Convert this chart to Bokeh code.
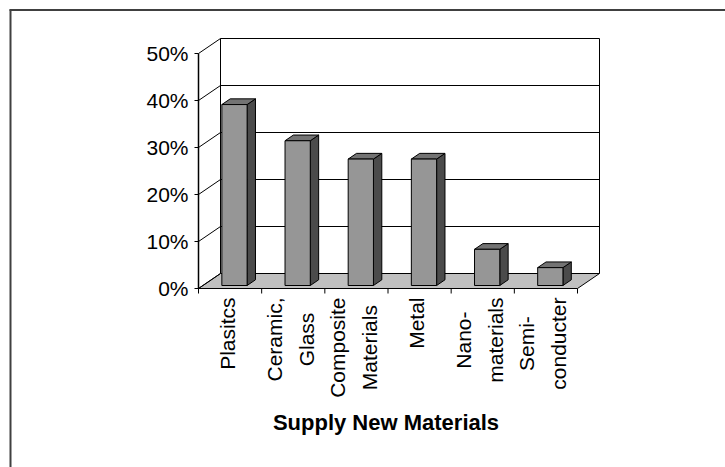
import math

from bokeh.core.properties import value
from bokeh.embed import file_html
from bokeh.models import Range1d
from bokeh.plotting import figure
from bokeh.resources import INLINE

# ---- data -------------------------------------------------------------
category_lines = [
    ["Plasitcs"],
    ["Ceramic,", "Glass"],
    ["Composite", "Materials"],
    ["Metal"],
    ["Nano-", "materials"],
    ["Semi-", "conducter"],
]
shares = [38.5, 30.8, 26.9, 26.9, 7.7, 3.8]  # percent
y_ticks = [0, 10, 20, 30, 40, 50]
y_tick_labels = ["0%", "10%", "20%", "30%", "40%", "50%"]
axis_title = "Supply New Materials"

# ---- layout (pixels) --------------------------------------------------
W, H = 725, 467
LEFT_PX, RIGHT_PX = 198.0, 577.0   # front edge of the floor
BASE_PX, TOP_PX = 288.0, 53.0      # 0% and 50% on the front axis
DEPTH_PX = (22.0, 15.0)            # wall depth (right, up)
BAR_FRONT = 0.2                    # bar front face, fraction of depth
BAR_DEPTH = 0.38                   # bar thickness, fraction of depth
BAR_WIDTH = 0.4                    # fraction of a category slot

N = len(shares)
YMAX = y_ticks[-1]
ppc = (RIGHT_PX - LEFT_PX) / N      # pixels per category
ppp = (BASE_PX - TOP_PX) / YMAX     # pixels per percent point
DX = DEPTH_PX[0] / ppc
DY = DEPTH_PX[1] / ppp

FONT = value("Liberation Sans")


def from_px(sx, sy):
    return (sx - LEFT_PX) / ppc, (BASE_PX - sy) / ppp


p = figure(
    width=W, height=H,
    x_range=Range1d(-LEFT_PX / ppc, (W - LEFT_PX) / ppc),
    y_range=Range1d(-(H - BASE_PX) / ppp, BASE_PX / ppp),
    x_axis_location=None, y_axis_location=None,
    toolbar_location=None, output_backend="svg",
    min_border=0, outline_line_color=None,
    background_fill_color="white", border_fill_color="white",
)
p.grid.visible = False

# ---- chart-area frame -------------------------------------------------
x0, y0 = from_px(9, 9.5)
x1, _ = from_px(W + 5, 9.5)
p.line([x0, x1], [y0, y0], line_color="black", line_width=1.5)
xl, yt = from_px(10, 9)
_, yb = from_px(10, H + 5)
p.line([xl, xl], [yt, yb], line_color="#404040", line_width=2)

# ---- walls and floor --------------------------------------------------
p.patch([0, N, N + DX, DX], [0, 0, DY, DY],
        fill_color="#c0c0c0", line_color="black", line_width=1)

grid = y_ticks[1:-1]
p.segment(x0=[DX] * len(grid), y0=[t + DY for t in grid],
          x1=[N + DX] * len(grid), y1=[t + DY for t in grid],
          line_color="black", line_width=1)
p.line([DX, DX, N + DX, N + DX], [DY, YMAX + DY, YMAX + DY, DY],
       line_color="black", line_width=1)
p.segment(x0=[0] * len(y_ticks), y0=y_ticks,
          x1=[DX] * len(y_ticks), y1=[t + DY for t in y_ticks],
          line_color="black", line_width=1)

# ---- bars -------------------------------------------------------------
fx, fy = BAR_FRONT * DX, BAR_FRONT * DY
bx, by = BAR_DEPTH * DX, BAR_DEPTH * DY
front_xs, front_ys, top_xs, top_ys, side_xs, side_ys = [], [], [], [], [], []
for i, v in enumerate(shares):
    left = i + 0.5 - BAR_WIDTH / 2 + fx
    right = i + 0.5 + BAR_WIDTH / 2 + fx
    bottom, top = fy, v + fy
    front_xs.append([left, right, right, left])
    front_ys.append([bottom, bottom, top, top])
    top_xs.append([left, right, right + bx, left + bx])
    top_ys.append([top, top, top + by, top + by])
    side_xs.append([right, right + bx, right + bx, right])
    side_ys.append([bottom, bottom + by, top + by, top])

p.patches(side_xs, side_ys, fill_color="#4b4b4b", line_color="black", line_width=1)
p.patches(top_xs, top_ys, fill_color="#737373", line_color="black", line_width=1)
p.patches(front_xs, front_ys, fill_color="#969696", line_color="black", line_width=1)

# ---- front value axis -------------------------------------------------
tick_x = 4 / ppc
p.segment(x0=[0], y0=[0], x1=[0], y1=[YMAX], line_color="black", line_width=1.5)
p.segment(x0=[-tick_x] * len(y_ticks), y0=y_ticks, x1=[0] * len(y_ticks), y1=y_ticks,
          line_color="black", line_width=1)
p.text(x=[0] * len(y_ticks), y=y_ticks, text=y_tick_labels, x_offset=-10,
       text_align="right", text_baseline="middle",
       text_font=FONT, text_font_size="21px", text_color="black")

# ---- category axis ----------------------------------------------------
tick_y = 5 / ppp
p.segment(x0=list(range(N + 1)), y0=[0] * (N + 1),
          x1=list(range(N + 1)), y1=[-tick_y] * (N + 1),
          line_color="black", line_width=1)

# advance widths (1/1000 em) used to centre the stacked label lines
ADV = {"P": 667, "l": 222, "a": 556, "s": 500, "i": 222, "t": 278, "c": 500,
       "C": 722, "e": 556, "r": 333, "m": 833, ",": 278, "G": 778, "o": 556,
       "p": 556, "M": 833, "N": 722, "n": 556, "-": 333, "S": 667, "d": 556,
       "u": 556}
CAT_FS = 21
LINE_GAP = 32
lx, ly, lt, lxo, lyo = [], [], [], [], []
for i, lines in enumerate(category_lines):
    longest = max(sum(ADV.get(ch, 556) for ch in s) for s in lines) * CAT_FS / 1000
    for k, s in enumerate(lines):
        lx.append(i + 0.5)
        ly.append(0)
        lt.append(s)
        lxo.append(-3 + (k - (len(lines) - 1) / 2) * LINE_GAP)
        lyo.append(9 + longest / 2)
p.text(x=lx, y=ly, text=lt, x_offset=lxo, y_offset=lyo, angle=math.pi / 2,
       text_align="center", text_baseline="middle",
       text_font=FONT, text_font_size=f"{CAT_FS}px", text_color="black")

p.text(x=[N / 2], y=[0], text=[axis_title], x_offset=-2, y_offset=134,
       text_align="center", text_baseline="middle",
       text_font=FONT, text_font_size="22px", text_font_style="bold",
       text_color="black")

open("out.html", "w").write(file_html(p, INLINE))
